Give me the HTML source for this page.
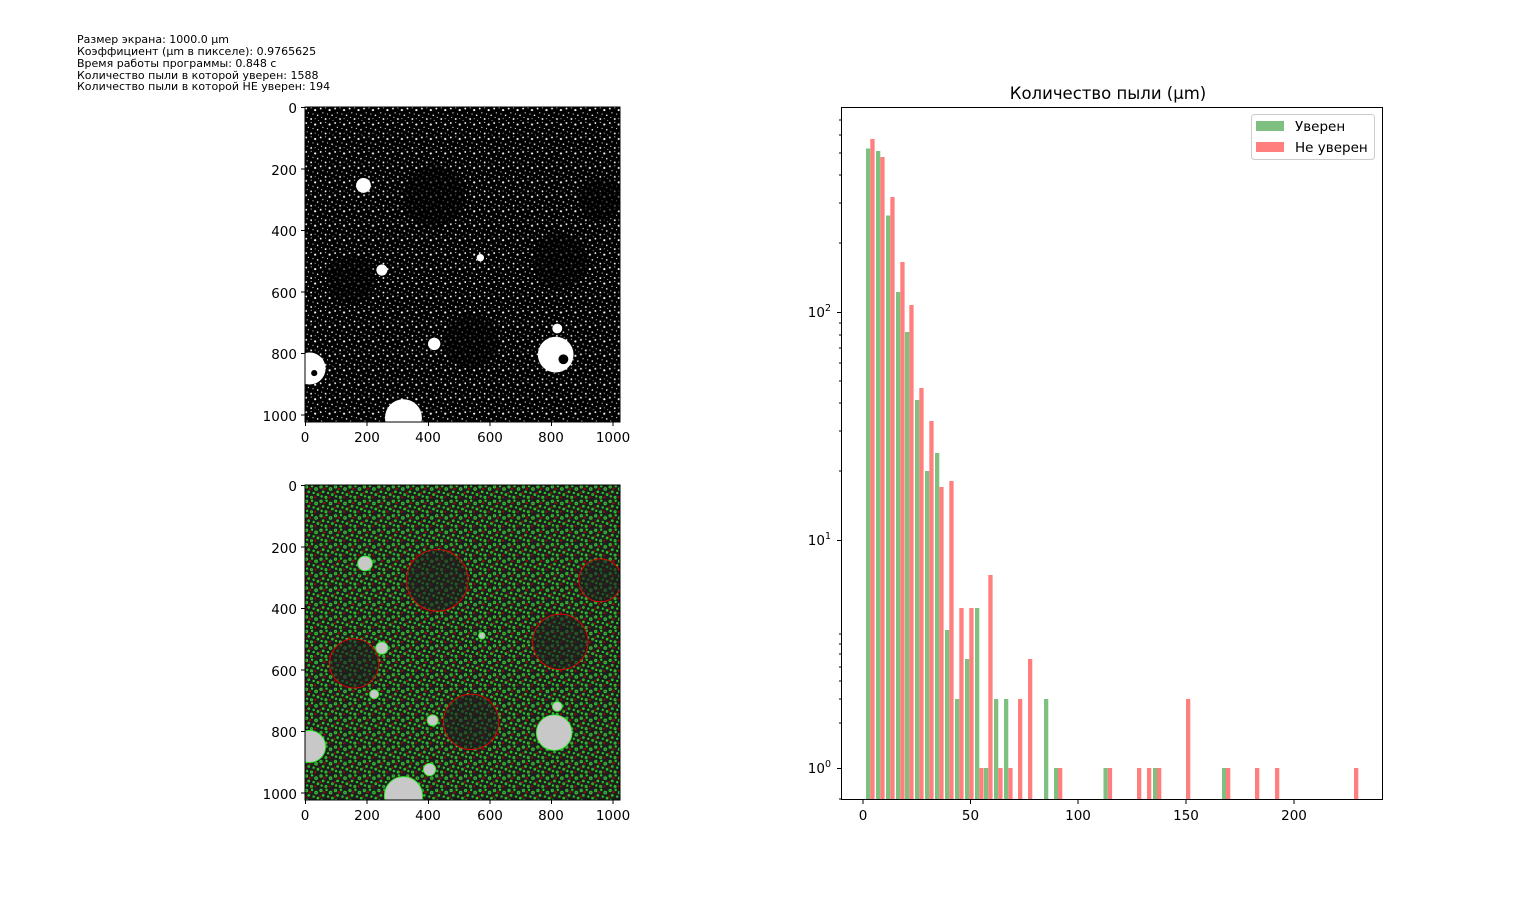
<!DOCTYPE html>
<html><head><meta charset="utf-8"><style>
body{margin:0;background:#fff;}
svg{display:block;font-family:"DejaVu Sans","Liberation Sans",sans-serif;}
</style></head><body>
<svg width="1536" height="898" viewBox="0 0 1536 898" xmlns="http://www.w3.org/2000/svg">
<defs>
<pattern id="pw" width="47" height="47" patternUnits="userSpaceOnUse">
<rect width="47" height="47" fill="#000"/>
<g fill="#fff">
<circle cx="4" cy="5" r="3" /><circle cx="20" cy="3" r="1.8"/>
<circle cx="33" cy="10" r="3.5"/><circle cx="11" cy="19" r="2"/>
<circle cx="26" cy="23" r="1.8"/><circle cx="41" cy="27" r="2.5"/>
<circle cx="7" cy="34" r="1.8"/><circle cx="20" cy="39" r="3"/>
<circle cx="33" cy="38" r="1.6"/><circle cx="44" cy="44" r="1.4"/>
</g>
</pattern>
<pattern id="pc" width="47" height="47" patternUnits="userSpaceOnUse">
<rect width="47" height="47" fill="#1e1e1e"/>
<g fill="#555" stroke="#2e2" stroke-width="2.5">
<circle cx="5" cy="6" r="4"/><circle cx="23" cy="4" r="2.5"/><circle cx="36" cy="13" r="4.5"/>
<circle cx="12" cy="22" r="3"/><circle cx="28" cy="26" r="2.5"/><circle cx="42" cy="31" r="3"/>
<circle cx="7" cy="37" r="2.5"/><circle cx="21" cy="40" r="3.5"/>
</g>
<g fill="none" stroke="#d00" stroke-width="2">
<circle cx="16" cy="12" r="2.5"/><circle cx="2" cy="26" r="2"/><circle cx="33" cy="40" r="2"/>
</g>
</pattern>
</defs>

<g font-size="11" fill="#000">
<text x="77" y="43">Размер экрана: 1000.0 μm</text>
<text x="77" y="55">Коэффициент (μm в пикселе): 0.9765625</text>
<text x="77" y="67">Время работы программы: 0.848 с</text>
<text x="77" y="79">Количество пыли в которой уверен: 1588</text>
<text x="77" y="90">Количество пыли в которой НЕ уверен: 194</text>
</g>

<svg x="305" y="107" width="315" height="315" viewBox="0 0 1024 1024">
<rect width="1024" height="1024" fill="url(#pw)"/>
<g fill="#000" opacity="0.6">
<circle cx="420" cy="290" r="100"/><circle cx="150" cy="560" r="80"/><circle cx="830" cy="500" r="90"/>
<circle cx="540" cy="760" r="90"/><circle cx="960" cy="300" r="70"/>
</g>
<g fill="#fff">
<circle cx="815" cy="805" r="58"/><circle cx="320" cy="1010" r="60"/><circle cx="15" cy="850" r="52"/>
<circle cx="190" cy="255" r="24"/><circle cx="250" cy="530" r="18"/><circle cx="420" cy="770" r="20"/>
<circle cx="820" cy="720" r="16"/><circle cx="570" cy="490" r="12"/>
</g>
<circle cx="840" cy="820" r="16" fill="#000"/><circle cx="30" cy="865" r="10" fill="#000"/>
</svg>
<rect x="305" y="107" width="315" height="315" fill="none" stroke="#000" stroke-width="1"/>

<svg x="305" y="485" width="315" height="315" viewBox="0 0 1024 1024">
<rect width="1024" height="1024" fill="url(#pc)"/>
<g fill="#1e1e1e" fill-opacity="0.6" stroke="#e00" stroke-width="3">
<circle cx="430" cy="310" r="100"/><circle cx="160" cy="580" r="80"/><circle cx="830" cy="510" r="90"/>
<circle cx="540" cy="770" r="90"/><circle cx="960" cy="310" r="70"/>
</g>
<g fill="#c8c8c8" stroke="#2e2" stroke-width="3">
<circle cx="810" cy="805" r="58"/><circle cx="320" cy="1010" r="62"/><circle cx="15" cy="850" r="52"/>
<circle cx="195" cy="255" r="24"/><circle cx="250" cy="530" r="20"/><circle cx="415" cy="765" r="18"/>
<circle cx="820" cy="720" r="16"/><circle cx="575" cy="490" r="11"/><circle cx="405" cy="925" r="20"/>
<circle cx="225" cy="680" r="15"/>
</g>
</svg>
<rect x="305" y="485" width="315" height="315" fill="none" stroke="#000" stroke-width="1"/>

<g stroke="#000" stroke-width="1">
<path d="M301 107.5H305M301 169H305M301 230.5H305M301 292H305M301 353.5H305M301 415H305"/>
<path d="M305.5 422V426M367 422V426M428.5 422V426M490 422V426M551.5 422V426M613 422V426"/>
<path d="M301 485.5H305M301 547H305M301 608.5H305M301 670H305M301 731.5H305M301 793H305"/>
<path d="M305.5 800V804M367 800V804M428.5 800V804M490 800V804M551.5 800V804M613 800V804"/>
</g>
<g font-size="13.5" fill="#000" text-anchor="end">
<text x="297" y="113">0</text><text x="297" y="175">200</text><text x="297" y="236">400</text><text x="297" y="298">600</text><text x="297" y="359">800</text><text x="297" y="421">1000</text>
<text x="297" y="491">0</text><text x="297" y="553">200</text><text x="297" y="614">400</text><text x="297" y="676">600</text><text x="297" y="737">800</text><text x="297" y="799">1000</text>
</g>
<g font-size="13.5" fill="#000" text-anchor="middle">
<text x="305" y="442">0</text><text x="367" y="442">200</text><text x="428" y="442">400</text><text x="490" y="442">600</text><text x="551" y="442">800</text><text x="613" y="442">1000</text>
<text x="305" y="820">0</text><text x="367" y="820">200</text><text x="428" y="820">400</text><text x="490" y="820">600</text><text x="551" y="820">800</text><text x="613" y="820">1000</text>
</g>

<text x="1108" y="99" font-size="16.5" text-anchor="middle">Количество пыли (μm)</text>
<g fill="#7fbf7f">
<rect x="866" y="148.5" width="4.3" height="650.5"/>
<rect x="876" y="151" width="4.3" height="648"/>
<rect x="886" y="215.5" width="4.3" height="583.5"/>
<rect x="896" y="292" width="4.3" height="507"/>
<rect x="905" y="332" width="4.3" height="467"/>
<rect x="915" y="400" width="4.3" height="399"/>
<rect x="925" y="471" width="4.3" height="328"/>
<rect x="935" y="453" width="4.3" height="346"/>
<rect x="945" y="630" width="4.3" height="169"/>
<rect x="955" y="699" width="4.3" height="100"/>
<rect x="965" y="659" width="4.3" height="140"/>
<rect x="975" y="608" width="4.3" height="191"/>
<rect x="984" y="768" width="4.3" height="31"/>
<rect x="994" y="699" width="4.3" height="100"/>
<rect x="1004" y="699" width="4.3" height="100"/>
<rect x="1044" y="699" width="4.3" height="100"/>
<rect x="1054" y="768" width="4.3" height="31"/>
<rect x="1103.5" y="768" width="4.3" height="31"/>
<rect x="1153" y="768" width="4.3" height="31"/>
<rect x="1222" y="768" width="4.3" height="31"/>
</g>
<g fill="#ff7f7f">
<rect x="870.3" y="139" width="4.3" height="660"/>
<rect x="880.3" y="157" width="4.3" height="642"/>
<rect x="890.3" y="197" width="4.3" height="602"/>
<rect x="900.3" y="262" width="4.3" height="537"/>
<rect x="909.3" y="305" width="4.3" height="494"/>
<rect x="919.3" y="388" width="4.3" height="411"/>
<rect x="929.3" y="421" width="4.3" height="378"/>
<rect x="939.3" y="487" width="4.3" height="312"/>
<rect x="949.3" y="481" width="4.3" height="318"/>
<rect x="959.3" y="608" width="4.3" height="191"/>
<rect x="969.3" y="608" width="4.3" height="191"/>
<rect x="979.3" y="768" width="4.3" height="31"/>
<rect x="988.3" y="575" width="4.3" height="224"/>
<rect x="998.3" y="768" width="4.3" height="31"/>
<rect x="1008.3" y="768" width="4.3" height="31"/>
<rect x="1018" y="699" width="4.3" height="100"/>
<rect x="1028" y="659" width="4.3" height="140"/>
<rect x="1058" y="768" width="4.3" height="31"/>
<rect x="1107.8" y="768" width="4.3" height="31"/>
<rect x="1137" y="768" width="4.3" height="31"/>
<rect x="1147" y="768" width="4.3" height="31"/>
<rect x="1157" y="768" width="4.3" height="31"/>
<rect x="1186" y="699" width="4.3" height="100"/>
<rect x="1226" y="768" width="4.3" height="31"/>
<rect x="1255" y="768" width="4.3" height="31"/>
<rect x="1275" y="768" width="4.3" height="31"/>
<rect x="1354" y="768" width="4.3" height="31"/>
</g>
<rect x="841.5" y="107.5" width="541" height="692" fill="none" stroke="#000" stroke-width="1"/>
<g stroke="#000"><path d="M863 800V804M970.5 800V804M1078 800V804M1186 800V804M1294 800V804"/></g>
<g font-size="13.5" text-anchor="middle">
<text x="863" y="820">0</text><text x="970.5" y="820">50</text><text x="1078" y="820">100</text><text x="1186" y="820">150</text><text x="1294" y="820">200</text>
</g>
<g stroke="#000">
<path d="M837 768.5H841M837 540.5H841M837 312.5H841"/>
<path d="M839 799H841M839 723H841M839 699H841M839 681H841M839 667H841M839 654H841M839 644H841M839 634H841
M839 471H841M839 431H841M839 403H841M839 381H841M839 363H841M839 348H841M839 335H841M839 323H841
M839 243H841M839 203H841M839 175H841M839 153H841M839 135H841M839 120H841"/>
</g>
<g font-size="13.5" text-anchor="end">
<text x="831" y="773">10<tspan font-size="9.5" dy="-6">0</tspan></text>
<text x="831" y="545">10<tspan font-size="9.5" dy="-6">1</tspan></text>
<text x="831" y="317">10<tspan font-size="9.5" dy="-6">2</tspan></text>
</g>
<rect x="1251.5" y="114.5" width="123" height="45" rx="3" fill="#fff" stroke="#ccc"/>
<rect x="1256" y="121" width="28" height="10" fill="#7fbf7f"/>
<rect x="1256" y="142" width="28" height="10" fill="#ff7f7f"/>
<text x="1295" y="131" font-size="13.5">Уверен</text>
<text x="1295" y="152" font-size="13.5">Не уверен</text>
</svg>
</body></html>
